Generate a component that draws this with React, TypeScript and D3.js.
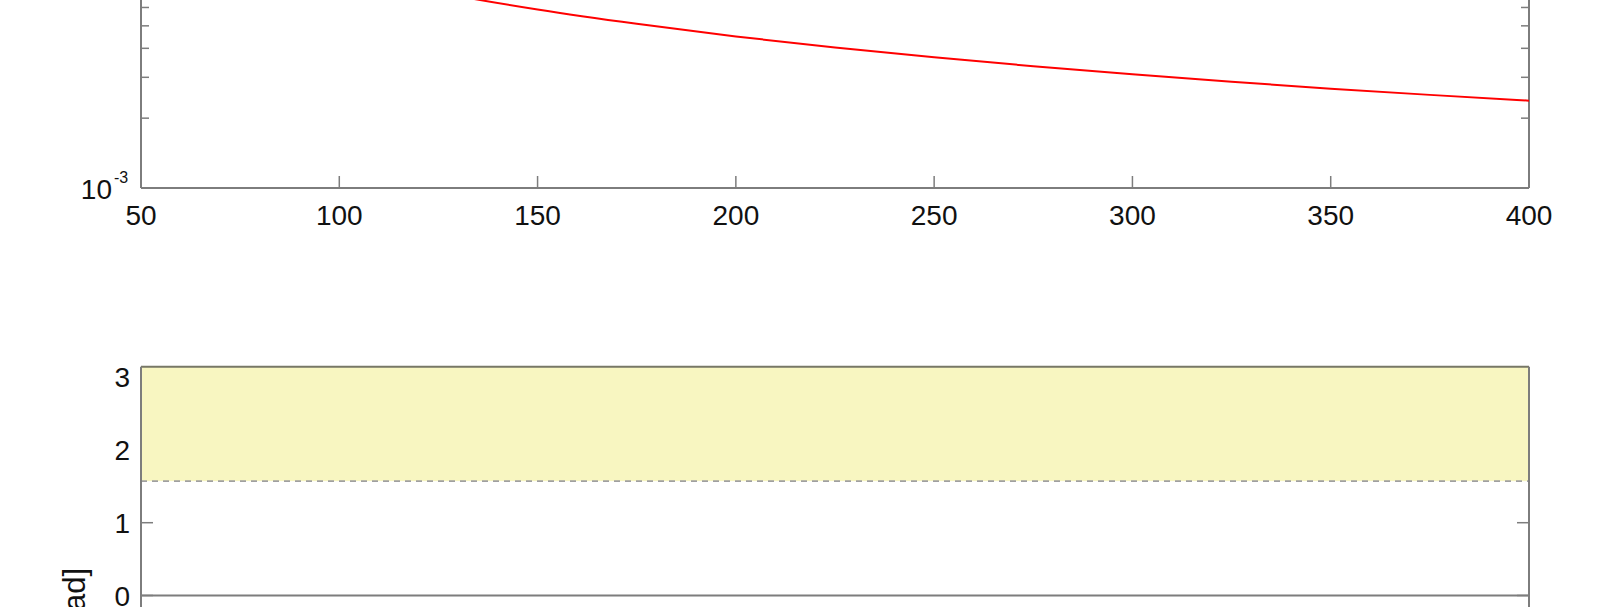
import React from "react";
import * as d3 from "d3";

// ---- data ----
const X_TICKS = [50, 100, 150, 200, 250, 300, 350, 400];
const CURVE_X = [100, 125, 150, 175, 200, 225, 250, 275, 300, 325, 350, 375, 400];
const CURVE_Y = [8.52e-3, 6.96e-3, 5.88e-3, 5.1e-3, 4.5e-3, 4.03e-3, 3.66e-3, 3.35e-3, 3.09e-3, 2.87e-3, 2.68e-3, 2.52e-3, 2.38e-3];
const PHASE_TICKS = [0, 1, 2, 3];
const BAND = [Math.PI / 2, Math.PI];
const PHASE_LABEL = "Phase [rad]";

const AXIS = "#7d7d7d";
const FONT = "'Liberation Sans', Arial, Helvetica, sans-serif";

export default function App() {
  const W = 1600;
  const H = 607;
  const x = d3.scaleLinear().domain([50, 400]).range([141, 1529]);
  const yTop = d3.scaleLog().domain([1e-3, 1e-2]).range([188, -44]);
  const yBot = d3.scaleLinear().domain([-Math.PI, Math.PI]).range([824.2, 366.8]);

  const [x0, x1] = x.range();
  const minor = yTop.ticks().filter((v) => v > 1.0001e-3 && v < 0.99e-2);
  const pts = CURVE_X.map((v, i) => [v, CURVE_Y[i]] as [number, number]);
  const line = d3
    .line<[number, number]>()
    .x((d) => x(d[0]))
    .y((d) => yTop(d[1]))
    .curve(d3.curveMonotoneX);

  const innerX = X_TICKS.filter((t) => t !== 50 && t !== 400);

  return (
    <svg
      width={W}
      height={H}
      style={{ position: "absolute", left: 0, top: 0, background: "#fff" }}
      fontFamily={FONT}
    >
      {/* ---------- top plot ---------- */}
      <g>
        {minor.map((v) => (
          <g key={"m" + v}>
            <line x1={x0} x2={x0 + 8} y1={yTop(v)} y2={yTop(v)} stroke={AXIS} strokeWidth={1.5} />
            <line x1={x1} x2={x1 - 8} y1={yTop(v)} y2={yTop(v)} stroke={AXIS} strokeWidth={1.5} />
          </g>
        ))}
        {innerX.map((t) => (
          <line key={"xt" + t} x1={x(t)} x2={x(t)} y1={yTop(1e-3)} y2={yTop(1e-3) - 12} stroke={AXIS} strokeWidth={1.5} />
        ))}
        <line x1={x0} x2={x0} y1={yTop(1e-2)} y2={yTop(1e-3)} stroke={AXIS} strokeWidth={2} />
        <line x1={x1} x2={x1} y1={yTop(1e-2)} y2={yTop(1e-3)} stroke={AXIS} strokeWidth={2} />
        <line x1={x0} x2={x1} y1={yTop(1e-3)} y2={yTop(1e-3)} stroke={AXIS} strokeWidth={2} />
        <path d={line(pts) || ""} fill="none" stroke="#ff0000" strokeWidth={2} />
        {X_TICKS.map((t) => (
          <text key={"xl" + t} x={x(t)} y={215} dy="0.36em" textAnchor="middle" fontSize={28} fill="#111">
            {t}
          </text>
        ))}
        <text x={112} y={189} dy="0.36em" textAnchor="end" fontSize={28} fill="#111">
          10
        </text>
        <text x={114} y={177} dy="0.36em" textAnchor="start" fontSize={16} fill="#111">
          -3
        </text>
      </g>

      {/* ---------- bottom plot ---------- */}
      <g>
        {PHASE_TICKS.map((t) => (
          <g key={"pt" + t}>
            <line x1={x0} x2={x0 + 12} y1={yBot(t)} y2={yBot(t)} stroke={AXIS} strokeWidth={1.5} />
            <line x1={x1} x2={x1 - 12} y1={yBot(t)} y2={yBot(t)} stroke={AXIS} strokeWidth={1.5} />
          </g>
        ))}
        <rect
          x={x0}
          y={yBot(BAND[1])}
          width={x1 - x0}
          height={yBot(BAND[0]) - yBot(BAND[1])}
          fill="#f8f6c1"
        />
        <line
          x1={x0}
          x2={x1}
          y1={yBot(BAND[0])}
          y2={yBot(BAND[0])}
          stroke="#a0a0a0"
          strokeWidth={1.6}
          strokeDasharray="6,5"
        />
        <line x1={x0} x2={x1} y1={yBot(0)} y2={yBot(0)} stroke={AXIS} strokeWidth={2} />
        <line x1={x0} x2={x1} y1={yBot(Math.PI)} y2={yBot(Math.PI)} stroke="#777766" strokeWidth={2} />
        <line x1={x0} x2={x0} y1={yBot(Math.PI)} y2={yBot(-Math.PI)} stroke={AXIS} strokeWidth={2} />
        <line x1={x1} x2={x1} y1={yBot(Math.PI)} y2={yBot(-Math.PI)} stroke={AXIS} strokeWidth={2} />
        {PHASE_TICKS.map((t) => (
          <text key={"pl" + t} x={130} y={yBot(t)} dy="0.36em" textAnchor="end" fontSize={28} fill="#111">
            {t}
          </text>
        ))}
        <text
          transform={`translate(85,568) rotate(-90)`}
          textAnchor="end"
          fontSize={31}
          fill="#111"
        >
          {PHASE_LABEL}
        </text>
      </g>
    </svg>
  );
}
